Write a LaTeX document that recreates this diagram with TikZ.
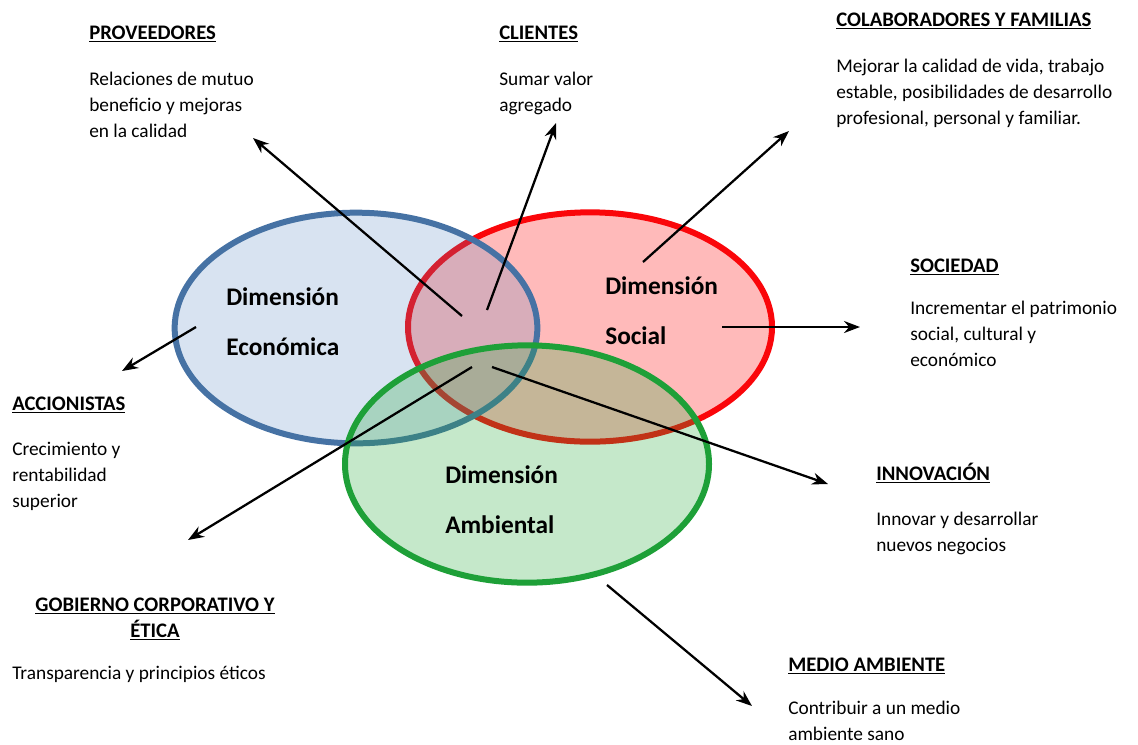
\documentclass[tikz,border=0pt]{standalone}
\usepackage{fontspec}
\setmainfont{Carlito}
\usetikzlibrary{shapes.geometric,arrows.meta}

\definecolor{ecoline}{RGB}{70,114,164}
\definecolor{ecofill}{RGB}{79,129,189}
\definecolor{socline}{RGB}{250,6,10}
\definecolor{socfill}{RGB}{255,0,0}
\definecolor{ambline}{RGB}{30,160,56}
\definecolor{ambfill}{RGB}{40,170,60}

\begin{document}
\begin{tikzpicture}[x=0.75pt,y=-0.75pt,
    dimension/.style={ellipse, line width=4.5pt, inner sep=0pt},
    dimlabel/.style={anchor=base west, align=left, inner sep=0pt, font=\fontsize{19}{37.5}\selectfont\bfseries},
    heading/.style={anchor=base west, inner sep=0pt, font=\fontsize{15.5}{19.5}\selectfont\bfseries},
    body/.style={anchor=base west, align=left, inner sep=0pt, font=\fontsize{14.5}{19.5}\selectfont},
    link/.style={line width=1.7pt, -{Stealth[length=12pt,width=9pt]}}]
   \useasboundingbox (0,0) rectangle (1138,744);

   % the three dimensions
   \node[dimension, draw=socline, fill=socfill, fill opacity=.27, minimum width=273pt, minimum height=172pt] (soc) at (590,327) {};
   \node[dimension, draw=ecoline, fill=ecofill, fill opacity=.22, minimum width=272pt, minimum height=173pt] (eco) at (356,328) {};
   \node[dimension, draw=ambline, fill=ambfill, fill opacity=.27, minimum width=273pt, minimum height=178pt] (amb) at (527,464) {};

   % multi-line nodes sit on the baseline of their last line
   \node[dimlabel] (ecotext) at (226,355) {Dimensión\\Económica};
   \node[dimlabel] (soctext) at (605,344) {Dimensión\\Social};
   \node[dimlabel] (ambtext) at (445,533) {Dimensión\\Ambiental};

   % stakeholders
   \node[heading] (prov) at (89,39) {\underline{PROVEEDORES}};
   \node[body] (provtext) at (89,137) {Relaciones de mutuo\\beneficio y mejoras\\en la calidad};
   \node[heading] (cli) at (499,39) {\underline{CLIENTES}};
   \node[body] (clitext) at (499,111) {Sumar valor\\agregado};
   \node[heading] (col) at (836,26) {\underline{COLABORADORES Y FAMILIAS}};
   \node[body] (coltext) at (836,124) {Mejorar la calidad de vida, trabajo\\estable, posibilidades de desarrollo\\profesional, personal y familiar.};
   \node[heading] (socd) at (910,272) {\underline{SOCIEDAD}};
   \node[body] (socdtext) at (910,366) {Incrementar el patrimonio\\social, cultural y\\económico};
   \node[heading] (acc) at (12,410) {\underline{ACCIONISTAS}};
   \node[body] (acctext) at (12,507) {Crecimiento y\\rentabilidad\\superior};
   \node[heading] (inn) at (876,480) {\underline{INNOVACIÓN}};
   \node[body] (inntext) at (876,551) {Innovar y desarrollar\\nuevos negocios};
   \node[heading, anchor=base, align=center] (gob) at (155,637) {\underline{GOBIERNO CORPORATIVO Y}\\\underline{ÉTICA}};
   \node[body] (gobtext) at (12,679) {Transparencia y principios éticos};
   \node[heading] (med) at (788,671) {\underline{MEDIO AMBIENTE}};
   \node[body] (medtext) at (788,740) {Contribuir a un medio\\ambiente sano};

   % arrows
   \coordinate (p1) at (462,316);  \coordinate (p2) at (253,138);
   \coordinate (c1) at (487,310);  \coordinate (c2) at (556,123);
   \coordinate (f1) at (643,262);  \coordinate (f2) at (789,131);
   \coordinate (s1) at (722,327);  \coordinate (s2) at (860,327);
   \coordinate (a1) at (196,327);  \coordinate (a2) at (122,371);
   \coordinate (g1) at (472,367);  \coordinate (g2) at (188,540);
   \coordinate (i1) at (492,367);  \coordinate (i2) at (828,484);
   \coordinate (m1) at (607,585);  \coordinate (m2) at (752,706);

   \draw[link] (p1) to (p2);
   \draw[link] (c1) to (c2);
   \draw[link] (f1) to (f2);
   \draw[link] (s1) to (s2);
   \draw[link] (a1) to (a2);
   \draw[link] (g1) to (g2);
   \draw[link] (i1) to (i2);
   \draw[link] (m1) to (m2);
 \end{tikzpicture}
\end{document}
